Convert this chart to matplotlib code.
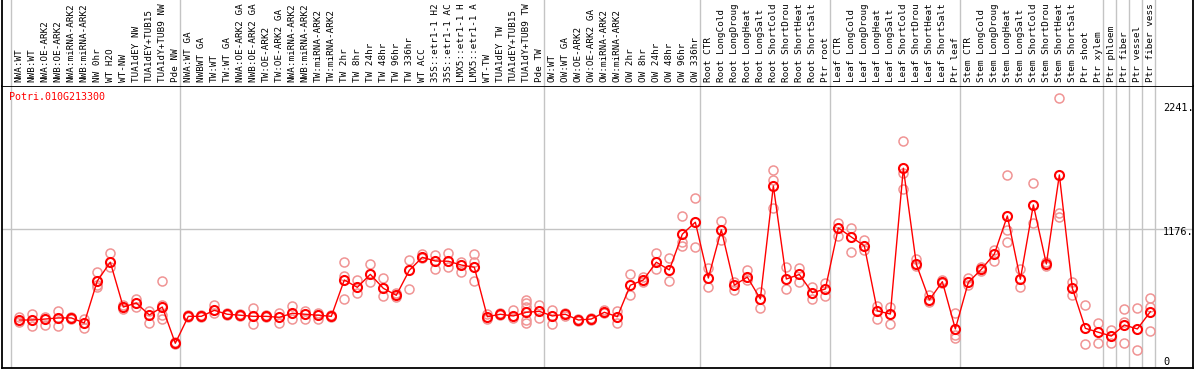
import numpy as np
import matplotlib.pyplot as plt

gene = "Potri.010G213300"

# column labels as far as the reference shows them (long names are cut at the top)
labels = [
    "NWA:WT", "NWB:WT", "NWA:OE-ARK2", "NWB:OE-ARK2", "NWA:miRNA-ARK2", "NWB:miRNA-ARK2",
    "NW 0hr", "WT H2O", "WT-NW", "TUA1dEY NW", "TUA1dEY+TUB15", "TUA1dY+TUB9 NW", "Pde NW",
    "NWA:WT GA", "NWBWT GA", "TW:WT", "TW:WT GA", "NWA:OE-ARK2 GA", "NWB:OE-ARK2 GA",
    "TW:OE-ARK2", "TW:OE-ARK2 GA", "NWA:miRNA-ARK2", "NWB:miRNA-ARK2", "TW:miRNA-ARK2",
    "TW:miRNA-ARK2", "TW 2hr", "TW 8hr", "TW 24hr", "TW 48hr", "TW 96hr", "TW 336hr", "WT ACC",
    "35S::etr1-1 H2", "35S::etr1-1 AC", "LMX5::etr1-1 H", "LMX5::etr1-1 A", "WT-TW",
    "TUA1dEY TW", "TUA1dEY+TUB15", "TUA1dY+TUB9 TW", "Pde TW",
    "OW:WT", "OW:WT GA", "OW:OE-ARK2", "OW:OE-ARK2 GA", "OW:miRNA-ARK2", "OW:miRNA-ARK2",
    "OW 2hr", "OW 8hr", "OW 24hr", "OW 48hr", "OW 96hr", "OW 336hr",
    "Root CTR", "Root LongCold", "Root LongDroug", "Root LongHeat", "Root LongSalt",
    "Root ShortCold", "Root ShortDrou", "Root ShortHeat", "Root ShortSalt", "Ptr root",
    "Leaf CTR", "Leaf LongCold", "Leaf LongDroug", "Leaf LongHeat", "Leaf LongSalt",
    "Leaf ShortCold", "Leaf ShortDrou", "Leaf ShortHeat", "Leaf ShortSalt", "Ptr leaf",
    "Stem CTR", "Stem LongCold", "Stem LongDroug", "Stem LongHeat", "Stem LongSalt",
    "Stem ShortCold", "Stem ShortDrou", "Stem ShortHeat", "Stem ShortSalt", "Ptr shoot",
    "Ptr xylem", "Ptr phloem", "Ptr fiber", "Ptr vessel", "Ptr fiber vess",
]

means = [430, 430, 438, 447, 447, 406, 749, 902, 536, 569, 471, 536, 240,
         460, 460, 509, 477, 469, 460, 460, 452, 485, 477, 469, 460,
         757, 697, 803, 689, 632, 836, 942, 912, 910, 879, 861,
         457, 477, 463, 493, 501,
         463, 477, 430, 438, 493, 457, 714, 757, 902, 839, 1131, 1229,
         773, 1167, 714, 781, 602, 1525, 765, 802, 653, 683,
         1182, 1108, 1035, 504, 479, 1670, 885, 594, 743, 357,
         738, 844, 969, 1280, 763, 1370, 888, 1615, 689, 362, 330,
         299, 389, 357, 498]

reps = [
    [452, 414], [477, 378], [456, 392], [506, 384], [452, 436], [436, 367],
    [820, 716, 702], [975, 866], [556, 520], [599, 534], [506, 403],
    [749, 556, 471, 441], [248, 232],
    [468, 452], [468, 452], [553, 485], [485, 469], [477, 460], [526, 397],
    [468, 452], [490, 408], [542, 436], [500, 441], [490, 441], [468, 452],
    [902, 790, 599], [757, 648], [888, 738], [771, 626], [650, 615], [918, 681],
    [967, 934], [964, 844], [980, 861], [904, 825], [967, 900, 749],
    [477, 436], [490, 468], [512, 449], [594, 567, 539, 430, 408], [553, 449],
    [512, 400], [485, 460], [440, 420], [445, 430], [510, 485], [506, 403],
    [806, 632], [780, 740], [980, 844], [934, 749], [1280, 1070, 1035], [1424, 1029],
    [853, 702], [1239, 1084], [740, 675], [839, 760], [659, 530],
    [1656, 1574, 1341], [866, 681], [853, 743], [700, 599], [730, 626],
    [1225, 1116], [1184, 988], [1084, 1002], [545, 436], [539, 397],
    [1890, 1634, 1498], [929, 870], [634, 580], [760, 730], [485, 308, 280],
    [776, 720], [860, 830], [1000, 915], [1615, 1165, 1067], [844, 697],
    [1547, 1220], [905, 870], [2241, 1302, 1275], [743, 634], [553, 234], [408, 240],
    [348, 245], [520, 411, 240], [526, 185], [607, 539, 340],
]

# first column of each block, last entry closes the final block
groups = [0, 13, 41, 53, 63, 73, 84, 85, 86, 87, 88]
ymax_label = 2241
ymid_label = 1176

mono = "DejaVu Sans Mono"
W, H = 1194, 370
fig = plt.figure(figsize=(W / 100, H / 100), dpi=100)
ax = fig.add_axes([2 / W, 1.7 / H, 1191 / W, 282.6 / H])
hx = fig.add_axes([2 / W, 284.3 / H, 1191 / W, 85.7 / H], sharex=ax)

x = np.arange(len(means))
for i, r in enumerate(reps):
    ax.plot([x[i]] * len(r), r, "o", mfc="none", mec="#f09494", ms=6.5, mew=1.1,
            zorder=2, clip_on=False)
ax.plot(x, means, "-", color="red", lw=1, zorder=3)
ax.plot(x, means, "o", mfc="none", mec="red", ms=6.5, mew=1.5, zorder=4)

for g in groups:
    ax.axvline(g - 0.62, color="#c4c4c4", lw=1, zorder=0)
    hx.axvline(g - 0.62, color="#c4c4c4", lw=1, zorder=0)
ax.axhline(ymid_label, color="#c4c4c4", lw=1, zorder=0)

ax.set_xlim(-1.33, 90.28)
ax.set_ylim(35.5, 2344)
for a in (ax, hx):
    a.set_xticks([])
    a.set_yticks([])
for s in ax.spines.values():
    s.set_linewidth(1.3)
    s.set_color("black")
hx.spines["top"].set_visible(False)
hx.spines["bottom"].set_visible(False)
hx.spines["right"].set_linewidth(1.3)
hx.spines["left"].set_linewidth(1.3)

for i, lab in enumerate(labels):
    hx.text(x[i], 0.045, lab, rotation=90, ha="center", va="bottom", family=mono,
            fontsize=6.7, transform=hx.get_xaxis_transform())

ax.text(0.0061, 0.961, gene, color="red", family=mono, fontsize=7.2,
        ha="left", va="center", transform=ax.transAxes)
ax.text(0.975, 0.922, f"{ymax_label}.", family=mono, fontsize=7.4,
        ha="left", va="center", transform=ax.transAxes)
ax.text(0.975, 0.482, f"{ymid_label}.", family=mono, fontsize=7.4,
        ha="left", va="center", transform=ax.transAxes)
ax.text(0.975, 0.024, "0", family=mono, fontsize=7.4,
        ha="left", va="center", transform=ax.transAxes)

fig.savefig("out.png", dpi=100)
